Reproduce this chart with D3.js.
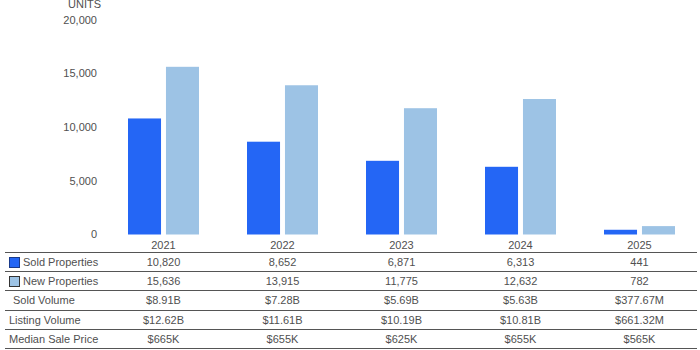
<!DOCTYPE html>
<html><head><meta charset="utf-8">
<script src="https://cdn.jsdelivr.net/npm/d3@7"></script>
<style>body{margin:0;background:#fff}svg{display:block;font-family:"Liberation Sans",Arial,sans-serif}</style>
</head><body>
<svg id="c" width="700" height="350"></svg>
<script>
const years = ["2021","2022","2023","2024","2025"];
const soldProperties = [10820, 8652, 6871, 6313, 441];
const newProperties = [15636, 13915, 11775, 12632, 782];
const soldVolume = ["$8.91B","$7.28B","$5.69B","$5.63B","$377.67M"];
const listingVolume = ["$12.62B","$11.61B","$10.19B","$10.81B","$661.32M"];
const medianSalePrice = ["$665K","$655K","$625K","$655K","$565K"];
const yTicks = [0, 5000, 10000, 15000, 20000];
const seriesNames = ["Sold Properties","New Properties"];
const colors = ["#2466F5","#9DC3E5"];
const textColor = "#505050";

const svg = d3.select("#c");
const x = d3.scaleBand().domain(years).range([104, 699]).paddingInner(0).paddingOuter(0);
const x1 = d3.scaleBand().domain([0,1]).range([24, 95]).paddingInner(0.13);
const y = d3.scaleLinear().domain([0, 20000]).range([234.5, 20]);

const fmt = d3.format(",");
svg.append("g").selectAll("text").data(yTicks).join("text")
  .attr("x", 97).attr("y", d => y(d)).attr("dy", "0.35em")
  .attr("text-anchor", "end").attr("font-size", 11).attr("fill", textColor)
  .text(d => fmt(d));
svg.append("text").attr("x", 101).attr("y", 8).attr("text-anchor","end")
  .attr("font-size", 11).attr("fill", textColor).text("UNITS");

const series = [soldProperties, newProperties];
series.forEach((vals, si) => {
  svg.append("g").selectAll("rect").data(vals).join("rect")
    .attr("x", (d, i) => x(years[i]) + x1(si))
    .attr("width", x1.bandwidth())
    .attr("y", d => y(d))
    .attr("height", d => y(0) - y(d))
    .attr("fill", colors[si]);
});

svg.append("g").selectAll("text").data(years).join("text")
  .attr("x", d => x(d) + x.bandwidth()/2).attr("y", 245).attr("dy","0.35em")
  .attr("text-anchor","middle").attr("font-size", 11).attr("fill",textColor).text(d => d);

const rowTop = 252, rowH = 19.2;
const rows = [
  {label: "Sold Properties", vals: soldProperties.map(fmt), sw: 0, lx: 23},
  {label: "New Properties", vals: newProperties.map(fmt), sw: 1, lx: 23},
  {label: "Sold Volume", vals: soldVolume, lx: 13},
  {label: "Listing Volume", vals: listingVolume, lx: 9},
  {label: "Median Sale Price", vals: medianSalePrice, lx: 9}
];
const lines = d3.range(rows.length + 1);
svg.append("g").selectAll("line").data(lines).join("line")
  .attr("x1", 5).attr("x2", 697)
  .attr("y1", d => Math.round(rowTop + d*rowH) + 0.5)
  .attr("y2", d => Math.round(rowTop + d*rowH) + 0.5)
  .attr("stroke", "#555").attr("stroke-width", 1);

rows.forEach((r, ri) => {
  const cy = rowTop + ri*rowH + rowH/2 + 0.5;
  const g = svg.append("g");
  if (r.sw !== undefined) {
    g.append("rect").attr("x", 9.5).attr("y", Math.round(cy - 5.5) + 0.5)
      .attr("width", 10).attr("height", 10)
      .attr("fill", colors[r.sw]).attr("stroke", r.sw === 0 ? "#1a3a8a" : "#333");
  }
  g.append("text").attr("x", r.lx).attr("y", cy).attr("dy","0.35em")
    .attr("font-size", 11).attr("fill",textColor).text(r.label);
  g.selectAll("text.v").data(r.vals).join("text").attr("class","v")
    .attr("x", (d, i) => x(years[i]) + x.bandwidth()/2).attr("y", cy).attr("dy","0.35em")
    .attr("text-anchor","middle").attr("font-size", 11).attr("fill",textColor).text(d => d);
});
</script>
</body></html>
